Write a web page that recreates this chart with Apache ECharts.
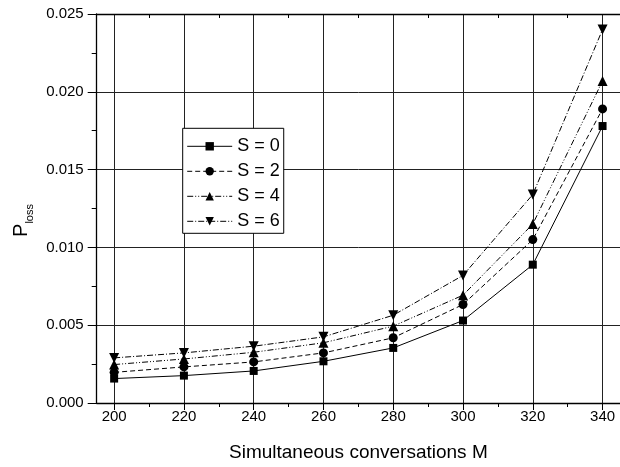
<!DOCTYPE html>
<html><head><meta charset="utf-8">
<script src="https://cdn.jsdelivr.net/npm/echarts@6/dist/echarts.min.js"></script>
<style>html,body{margin:0;padding:0;background:#fff}#c{width:620px;height:467px}</style>
</head><body><div id="c"></div>
<script>
var xValues = [200, 220, 240, 260, 280, 300, 320, 340];
var xMajorTicks = [200, 220, 240, 260, 280, 300, 320, 340];
var xMinorTicks = [210, 230, 250, 270, 290, 310, 330];
var seriesNames = ['S = 0', 'S = 2', 'S = 4', 'S = 6'];
var s0 = [0.00157, 0.00176, 0.00206, 0.00268, 0.00354, 0.00530, 0.00889, 0.01780];
var s2 = [0.00197, 0.00232, 0.00264, 0.00322, 0.00419, 0.00633, 0.01050, 0.01890];
var s4 = [0.00247, 0.00283, 0.00326, 0.00387, 0.00494, 0.00693, 0.01150, 0.02070];
var s6 = [0.00290, 0.00322, 0.00365, 0.00425, 0.00564, 0.00820, 0.01340, 0.02400];

var FONT = 'Liberation Sans, Arial, sans-serif';
function pairs(arr){ return arr.map(function(v,i){ return [xValues[i], v]; }); }
function mk(name, data, symbol, size, rot, dash){
  return {
    name: name, type: 'line', data: pairs(data),
    symbol: symbol, symbolSize: size, symbolRotate: rot,
    showAllSymbol: true,
    itemStyle: {color: '#000'},
    lineStyle: {color: '#000', width: 1, type: dash},
    animation: false
  };
}
var chart = echarts.init(document.getElementById('c'), null, {renderer: 'canvas'});
chart.setOption({
  animation: false,
  backgroundColor: '#fff',
  grid: {left: 96.7, top: 14, bottom: 63.7, right: -3.6, containLabel: false},
  legend: {
    left: 182.7, top: 128.3, orient: 'vertical',
    padding: [9, 4, 3, 4],
    borderColor: '#000', borderWidth: 1,
    backgroundColor: '#fff',
    itemWidth: 45, itemHeight: 10.5, itemGap: 7,
    lineStyle: {width: 1},
    textStyle: {fontFamily: FONT, fontSize: 18, color: '#000', lineHeight: 18},
    data: seriesNames
  },
  xAxis: [{
    type: 'value', min: 195, max: 345, position: 'bottom',
    axisLine: {show: true, onZero: false, lineStyle: {color: '#000', width: 1.3}},
    axisTick: {show: true, inside: false, length: 7, customValues: xMajorTicks, lineStyle: {color: '#000'}},
    axisLabel: {customValues: xMajorTicks, fontFamily: FONT, fontSize: 15, color: '#000', margin: 6},
    splitLine: {show: true, lineStyle: {color: '#222', width: 1}},
    name: 'Simultaneous conversations M', nameLocation: 'middle', nameGap: 40,
    nameTextStyle: {fontFamily: FONT, fontSize: 19, color: '#000'}
  }, {
    type: 'value', min: 195, max: 345, position: 'bottom', offset: 0,
    axisLine: {show: false},
    axisTick: {show: true, inside: false, length: 4, customValues: xMinorTicks, lineStyle: {color: '#000'}},
    axisLabel: {show: false},
    splitLine: {show: false}
  }, {
    type: 'value', min: 195, max: 345, position: 'top',
    axisLine: {show: true, onZero: false, lineStyle: {color: '#000', width: 1.3}},
    axisTick: {show: true, inside: true, length: 4, customValues: xMinorTicks, lineStyle: {color: '#000'}},
    axisLabel: {show: false},
    splitLine: {show: false}
  }],
  yAxis: {
    type: 'value', min: 0, max: 0.025, interval: 0.005,
    axisLine: {show: true, onZero: false, lineStyle: {color: '#000', width: 1.3}},
    axisTick: {show: true, inside: false, length: 9, lineStyle: {color: '#000'}},
    minorTick: {show: true, splitNumber: 2, length: 5, lineStyle: {color: '#000'}},
    axisLabel: {fontFamily: FONT, fontSize: 15, color: '#000', margin: 13,
      formatter: function(v){ return v.toFixed(3); }},
    splitLine: {show: true, lineStyle: {color: '#222', width: 1}},
    name: '{p|P}{s|loss}', nameLocation: 'middle', nameGap: 58, nameRotate: 90,
    nameTextStyle: {
      fontFamily: FONT, color: '#000', padding: [0, 24, 0, 0],
      rich: {
        p: {fontFamily: FONT, fontSize: 20, color: '#000', lineHeight: 22, verticalAlign: 'bottom'},
        s: {fontFamily: FONT, fontSize: 11, color: '#000', lineHeight: 22, verticalAlign: 'bottom', padding: [0,0,-4,0]}
      }
    }
  },
  series: [
    mk(seriesNames[0], s0, 'rect', 8, 0, 'solid'),
    mk(seriesNames[1], s2, 'circle', 9, 0, [5, 3]),
    mk(seriesNames[2], s4, 'triangle', 10, 0, [6, 2, 1, 2, 1, 2]),
    mk(seriesNames[3], s6, 'triangle', 10, 180, [6, 2, 1, 2])
  ]
});
</script></body></html>
